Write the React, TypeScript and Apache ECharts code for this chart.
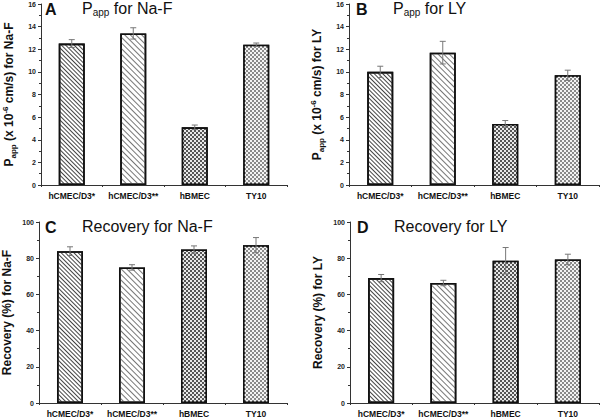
import React, { useEffect, useRef } from "react";
import * as echarts from "echarts";

const categories = ["hCMEC/D3*", "hCMEC/D3**", "hBMEC", "TY10"];

const pappNaF = [12.5, 13.4, 5.1, 12.4];
const pappNaFErr = [0.35, 0.5, 0.2, 0.15];
const pappLY = [10.0, 11.7, 5.4, 9.7];
const pappLYErr = [0.5, 1.0, 0.3, 0.45];
const recNaF = [83.9, 74.9, 84.8, 87.2];
const recNaFErr = [2.4, 1.5, 2.0, 4.2];
const recLY = [69.0, 66.3, 78.6, 79.3];
const recLYErr = [2.0, 1.5, 7.3, 2.9];

const FONT = "'Liberation Sans', Arial, sans-serif";

const barStyles = [
  {
    color: "#ffffff",
    decal: { symbol: "rect", symbolSize: 1, dashArrayX: [1, 0], dashArrayY: [1, 2], rotation: Math.PI / 4, color: "#444" },
  },
  {
    color: "#ffffff",
    decal: { symbol: "rect", symbolSize: 1, dashArrayX: [1, 0], dashArrayY: [1, 2.4], rotation: Math.PI / 4, color: "#777" },
  },
  {
    color: "#555555",
    decal: { symbol: "rect", symbolSize: 1, dashArrayX: [[2, 2], [0, 2, 2, 0]], dashArrayY: [2, 0], rotation: 0, color: "#e8e8e8" },
  },
  {
    color: "#8a8a8a",
    decal: { symbol: "rect", symbolSize: 1, dashArrayX: [[1.5, 1.5], [0, 1.5, 1.5, 0]], dashArrayY: [1.5, 0], rotation: 0, color: "#f4f4f4" },
  },
];

type Panel = {
  letter: string;
  titleRich: string;
  yName: string;
  values: number[];
  errs: number[];
  max: number;
  interval: number;
  grid: { left: number; top: number; width: number; height: number };
};

const panels: Panel[] = [
  {
    letter: "A",
    titleRich: "{m|P}{s|app}{m| for Na-F}",
    yName: "{b|P}{s|app}{b| (x 10}{p|-6}{b| cm/s) for Na-F}",
    values: pappNaF,
    errs: pappNaFErr,
    max: 16,
    interval: 2,
    grid: { left: 38, top: 4, width: 249, height: 181 },
  },
  {
    letter: "B",
    titleRich: "{m|P}{s|app}{m| for LY}",
    yName: "{b|P}{s|app}{b| (x 10}{p|-6}{b| cm/s) for LY}",
    values: pappLY,
    errs: pappLYErr,
    max: 16,
    interval: 2,
    grid: { left: 349, top: 4, width: 250, height: 181 },
  },
  {
    letter: "C",
    titleRich: "{m|Recovery for Na-F}",
    yName: "{b|Recovery (%) for Na-F}",
    values: recNaF,
    errs: recNaFErr,
    max: 100,
    interval: 20,
    grid: { left: 38, top: 222, width: 249, height: 182 },
  },
  {
    letter: "D",
    titleRich: "{m|Recovery for LY}",
    yName: "{b|Recovery (%) for LY}",
    values: recLY,
    errs: recLYErr,
    max: 100,
    interval: 20,
    grid: { left: 350, top: 222, width: 249, height: 182 },
  },
];

function buildOption() {
  const grid: any[] = [];
  const xAxis: any[] = [];
  const yAxis: any[] = [];
  const series: any[] = [];
  const title: any[] = [];

  panels.forEach((p, i) => {
    grid.push({ ...p.grid });
    xAxis.push({
      type: "category",
      gridIndex: i,
      data: categories,
      axisLine: { lineStyle: { color: "#333", width: 1 } },
      axisTick: { show: true, length: 2, lineStyle: { color: "#333" } },
      axisLabel: { interval: 0, fontFamily: FONT, fontSize: 8.5, fontWeight: "bold", color: "#111", margin: 6 },
    });
    yAxis.push({
      type: "value",
      gridIndex: i,
      min: 0,
      max: p.max,
      interval: p.interval,
      splitLine: { show: false },
      axisLine: { show: true, lineStyle: { color: "#333", width: 1 } },
      axisTick: { show: true, length: 3, lineStyle: { color: "#333" } },
      minorTick: { show: true, splitNumber: 2, length: 2, lineStyle: { color: "#333" } },
      axisLabel: { fontFamily: FONT, fontSize: 7, fontWeight: "bold", color: "#222", margin: 5 },
      name: p.yName,
      nameLocation: "middle",
      nameGap: 24,
      nameRotate: 90,
      nameTextStyle: {
        rich: {
          b: { fontFamily: FONT, fontSize: 12, fontWeight: "bold", color: "#111", lineHeight: 16 },
          s: { fontFamily: FONT, fontSize: 8, fontWeight: "bold", color: "#111", lineHeight: 10, verticalAlign: "bottom" },
          p: { fontFamily: FONT, fontSize: 8, fontWeight: "bold", color: "#111", lineHeight: 10, verticalAlign: "top" },
        },
      },
    });
    series.push({
      type: "bar",
      xAxisIndex: i,
      yAxisIndex: i,
      barWidth: 26,
      data: p.values.map((v, k) => ({
        value: v,
        itemStyle: { ...barStyles[k], borderColor: "#111", borderWidth: 1.6 },
      })),
      z: 2,
    });
    series.push({
      type: "custom",
      xAxisIndex: i,
      yAxisIndex: i,
      z: 3,
      data: p.values.map((v, k) => [k, v, p.errs[k]]),
      renderItem: (params: any, api: any) => {
        const x = api.value(0);
        const v = api.value(1);
        const e = api.value(2);
        const hi = api.coord([x, v + e]);
        const lo = api.coord([x, v - e]);
        const w = 3;
        const style = { stroke: "#777", lineWidth: 1 };
        return {
          type: "group",
          children: [
            { type: "line", shape: { x1: hi[0], y1: hi[1], x2: lo[0], y2: lo[1] }, style },
            { type: "line", shape: { x1: hi[0] - w, y1: hi[1], x2: hi[0] + w, y2: hi[1] }, style },
            { type: "line", shape: { x1: lo[0] - w, y1: lo[1], x2: lo[0] + w, y2: lo[1] }, style },
          ],
        };
      },
    });
    title.push({
      text: p.letter,
      left: p.grid.left + 7,
      top: p.grid.top - 3,
      padding: 0,
      textStyle: { fontFamily: FONT, fontSize: 16, fontWeight: "bold", color: "#111" },
    });
    title.push({
      text: p.titleRich,
      left: p.grid.left + 44,
      top: p.grid.top - 5,
      padding: 0,
      textStyle: {
        fontWeight: "normal",
        rich: {
          m: { fontFamily: FONT, fontSize: 16, fontWeight: "normal", color: "#111", lineHeight: 18 },
          s: { fontFamily: FONT, fontSize: 10, fontWeight: "normal", color: "#111", lineHeight: 12, verticalAlign: "bottom" },
        },
      },
    });
  });

  return { animation: false, backgroundColor: "#ffffff", title, grid, xAxis, yAxis, series };
}

export default function App() {
  const ref = useRef<HTMLDivElement>(null);
  useEffect(() => {
    if (!ref.current) return;
    const chart = echarts.init(ref.current, undefined, { renderer: "svg" });
    chart.setOption(buildOption() as any);
    return () => chart.dispose();
  }, []);
  return (
    <div
      ref={ref}
      style={{ position: "fixed", left: 0, top: 0, width: 600, height: 418, background: "#fff" }}
    />
  );
}
